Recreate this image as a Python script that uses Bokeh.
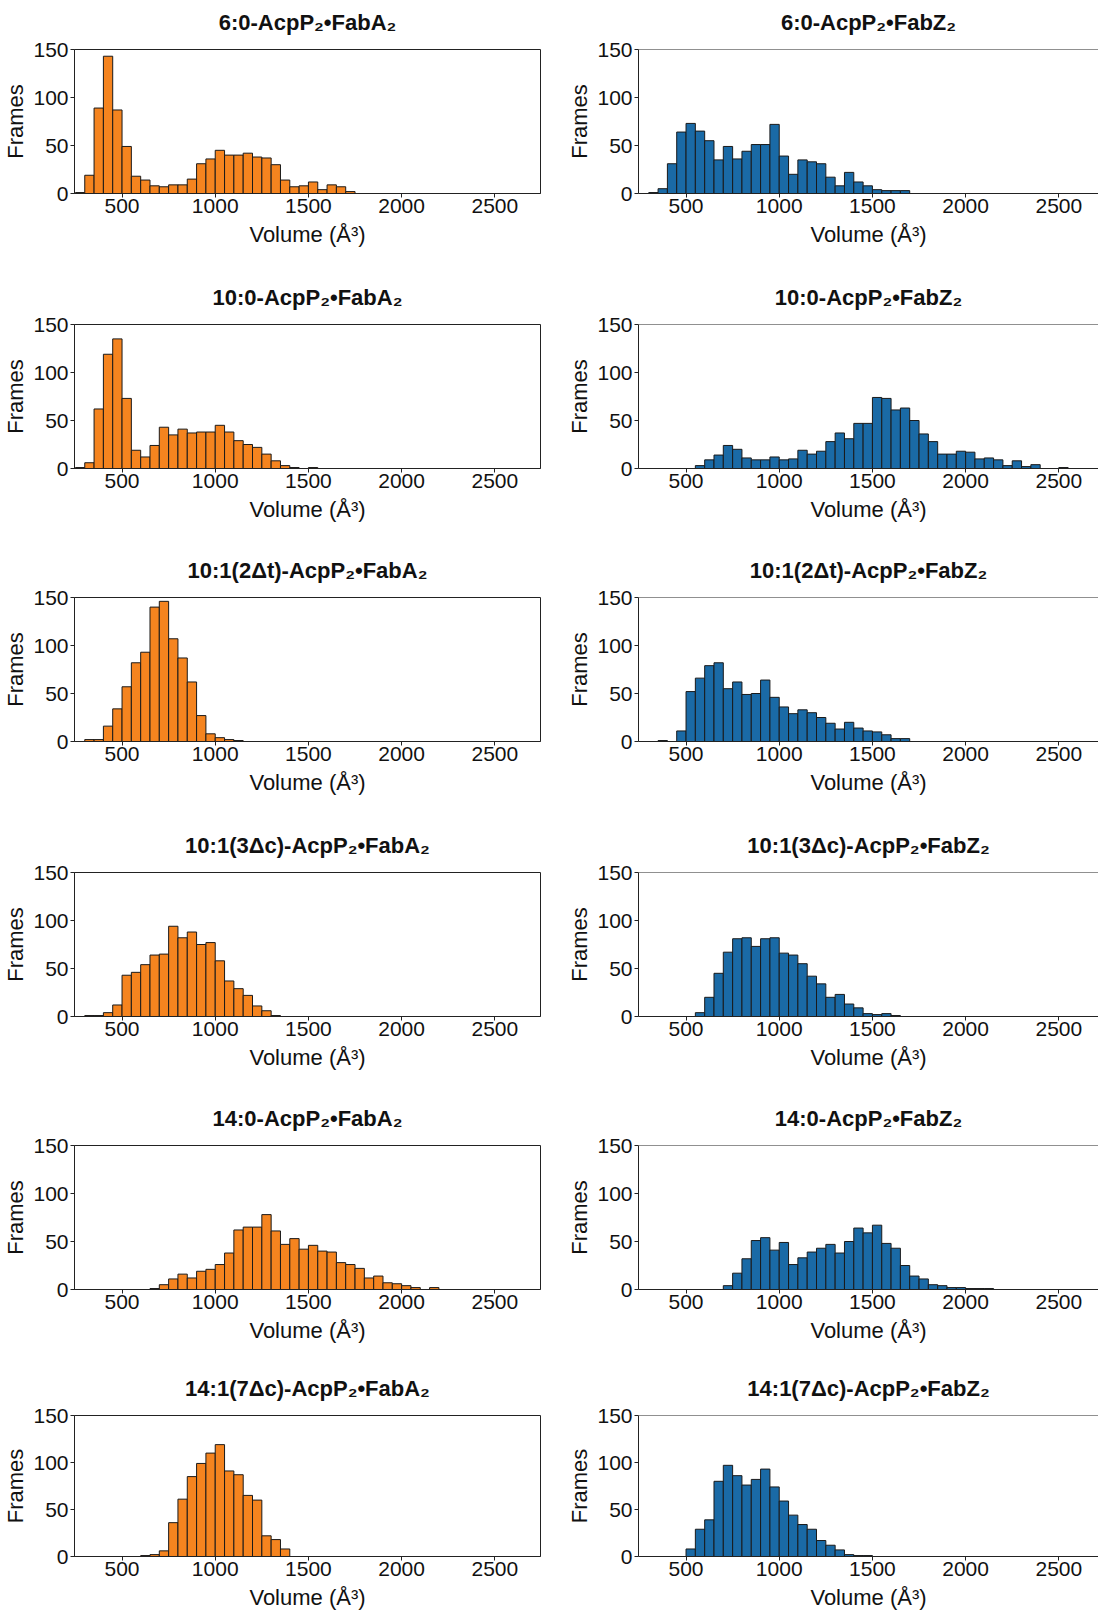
from bokeh.plotting import figure
from bokeh.layouts import column, row
from bokeh.models import ColumnDataSource, Range1d, Span, FixedTicker, Title
from bokeh.embed import file_html
from bokeh.resources import INLINE

# ---------------- data ----------------
BIN_WIDTH = 50
x_ticks = [500, 1000, 1500, 2000, 2500]
y_ticks = [0, 50, 100, 150]
x_label = "Volume (Å³)"
y_label = "Frames"

# FabA column (left)
titles_fabA = [
    "6:0-AcpP₂•FabA₂",
    "10:0-AcpP₂•FabA₂",
    "10:1(2Δt)-AcpP₂•FabA₂",
    "10:1(3Δc)-AcpP₂•FabA₂",
    "14:0-AcpP₂•FabA₂",
    "14:1(7Δc)-AcpP₂•FabA₂",
]
fabA_6_0_start = 250
fabA_6_0 = [1, 19, 89, 143, 87, 49, 18, 14, 8, 7, 9, 9, 15, 31, 36, 45, 40, 40, 42, 38,
            37, 30, 14, 7, 8, 12, 4, 9, 7, 2]
fabA_10_0_start = 250
fabA_10_0 = [1, 6, 62, 119, 135, 73, 19, 12, 24, 43, 35, 41, 37, 38, 38, 45, 38, 29, 25, 22,
             15, 8, 3, 1, 0, 1]
fabA_10_1t_start = 300
fabA_10_1t = [2, 2, 16, 34, 57, 82, 93, 140, 146, 107, 87, 62, 27, 8, 4, 2, 1]
fabA_10_1c_start = 300
fabA_10_1c = [1, 1, 4, 12, 43, 46, 54, 64, 65, 94, 82, 88, 75, 77, 58, 37, 29, 22, 11, 6, 1]
fabA_14_0_start = 650
fabA_14_0 = [1, 5, 11, 16, 12, 19, 21, 26, 38, 62, 65, 65, 78, 61, 47, 53, 42, 46, 40, 39,
             28, 26, 22, 12, 14, 7, 6, 4, 2, 0, 2]
fabA_14_1c_start = 600
fabA_14_1c = [1, 2, 6, 36, 61, 85, 99, 110, 119, 91, 87, 65, 60, 22, 18, 8]

# FabZ column (right)
titles_fabZ = [
    "6:0-AcpP₂•FabZ₂",
    "10:0-AcpP₂•FabZ₂",
    "10:1(2Δt)-AcpP₂•FabZ₂",
    "10:1(3Δc)-AcpP₂•FabZ₂",
    "14:0-AcpP₂•FabZ₂",
    "14:1(7Δc)-AcpP₂•FabZ₂",
]
fabZ_6_0_start = 300
fabZ_6_0 = [1, 5, 31, 64, 73, 65, 55, 35, 49, 36, 44, 51, 51, 72, 39, 20, 35, 33, 31, 17,
            8, 22, 12, 8, 4, 3, 3, 3]
fabZ_10_0_start = 550
fabZ_10_0 = [3, 9, 14, 24, 20, 11, 9, 9, 12, 9, 10, 19, 15, 18, 28, 37, 31, 47, 47, 74,
             73, 61, 63, 50, 36, 28, 15, 15, 18, 17, 10, 11, 9, 3, 8, 2, 4, 0, 0, 1]
fabZ_10_1t_start = 350
fabZ_10_1t = [1, 0, 11, 52, 66, 79, 82, 55, 62, 49, 50, 64, 46, 36, 29, 33, 30, 25, 19, 13,
              20, 14, 11, 10, 7, 3, 3]
fabZ_10_1c_start = 550
fabZ_10_1c = [4, 20, 45, 67, 81, 82, 73, 81, 82, 66, 64, 55, 42, 34, 20, 23, 13, 9, 3, 2, 3, 1]
fabZ_14_0_start = 700
fabZ_14_0 = [4, 17, 32, 51, 54, 41, 49, 26, 33, 39, 43, 47, 38, 50, 64, 59, 67, 48, 43, 25,
             14, 11, 5, 4, 2, 2, 1, 1, 1]
fabZ_14_1c_start = 500
fabZ_14_1c = [8, 29, 39, 80, 97, 86, 76, 82, 93, 74, 59, 44, 34, 29, 17, 12, 7, 2, 1, 1]

fabA_series = [
    (fabA_6_0_start, fabA_6_0), (fabA_10_0_start, fabA_10_0),
    (fabA_10_1t_start, fabA_10_1t), (fabA_10_1c_start, fabA_10_1c),
    (fabA_14_0_start, fabA_14_0), (fabA_14_1c_start, fabA_14_1c),
]
fabZ_series = [
    (fabZ_6_0_start, fabZ_6_0), (fabZ_10_0_start, fabZ_10_0),
    (fabZ_10_1t_start, fabZ_10_1t), (fabZ_10_1c_start, fabZ_10_1c),
    (fabZ_14_0_start, fabZ_14_0), (fabZ_14_1c_start, fabZ_14_1c),
]

# ---------------- style / layout ----------------
ORANGE = "#f5841f"
BLUE = "#1a6aa6"
EDGE = "#1a1a1a"
SPINE = "#222222"
FONT = "Liberation Sans"
XMIN, XMAX = 245, 2745
YMAX = 150
FRAME_W = 466
PX_PER_UNIT = FRAME_W / (XMAX - XMIN)
ROW_HEIGHTS = [275, 273, 275, 273, 270, 246]
TOP = 49
FRAME_H = 144
COL_W = 549


def make_panel(title, start, counts, color, right_col, h):
    if right_col:
        mbl, mbr = 89, 0
        xr = Range1d(XMIN, XMIN + (COL_W - mbl) / PX_PER_UNIT)
    else:
        mbl = 74
        mbr = COL_W - mbl - FRAME_W
        xr = Range1d(XMIN, XMAX)
    p = figure(width=COL_W, height=h, x_range=xr, y_range=Range1d(0, YMAX),
               output_backend="svg", toolbar_location=None, title=None,
               min_border_left=mbl, min_border_right=mbr,
               min_border_top=TOP, min_border_bottom=(h - TOP - FRAME_H))
    lefts = [start + i * BIN_WIDTH for i in range(len(counts))]
    src = ColumnDataSource(dict(left=lefts,
                                right=[l + BIN_WIDTH for l in lefts],
                                top=counts,
                                bottom=[0] * len(counts)))
    p.quad(left="left", right="right", top="top", bottom="bottom", source=src,
           fill_color=color, line_color=EDGE, line_width=1)

    # spacer (closest to frame) then the real title above it
    p.add_layout(Title(text=" ", text_font_size="1px", standoff=12), "above")
    p.add_layout(Title(text=title, align="center", text_font=FONT,
                       text_font_style="bold", text_font_size="22px",
                       text_color="#111111", standoff=0), "above")

    p.xgrid.visible = False
    p.ygrid.visible = False
    p.background_fill_color = "white"
    p.border_fill_color = "white"
    if right_col:
        p.outline_line_color = None
        p.add_layout(Span(location=YMAX, dimension="width", line_color=SPINE, line_width=1))
    else:
        p.outline_line_color = SPINE
        p.outline_line_width = 1

    p.xaxis.ticker = FixedTicker(ticks=x_ticks)
    p.yaxis.ticker = FixedTicker(ticks=y_ticks)
    p.xaxis.axis_label = x_label
    p.yaxis.axis_label = y_label
    for ax in (p.xaxis, p.yaxis):
        ax.axis_line_color = SPINE
        ax.axis_line_width = 1
        ax.major_tick_line_color = SPINE
        ax.major_tick_out = 4
        ax.major_tick_in = 0
        ax.minor_tick_line_color = None
        ax.major_label_text_font = FONT
        ax.major_label_text_font_size = "21px"
        ax.major_label_text_color = "#111111"
        ax.axis_label_text_font = FONT
        ax.axis_label_text_font_size = "22px"
        ax.axis_label_text_font_style = "normal"
        ax.axis_label_text_color = "#111111"
    p.xaxis.major_label_standoff = 1
    p.xaxis.axis_label_standoff = 6
    p.yaxis.major_label_standoff = 2
    p.yaxis.axis_label_standoff = 2
    return p


rows = []
for i in range(6):
    h = ROW_HEIGHTS[i]
    sA, cA = fabA_series[i]
    sZ, cZ = fabZ_series[i]
    pa = make_panel(titles_fabA[i], sA, cA, ORANGE, False, h)
    pz = make_panel(titles_fabZ[i], sZ, cZ, BLUE, True, h)
    rows.append(row(pa, pz))

layout = column(*rows)
open("out.html", "w").write(file_html(layout, INLINE))
